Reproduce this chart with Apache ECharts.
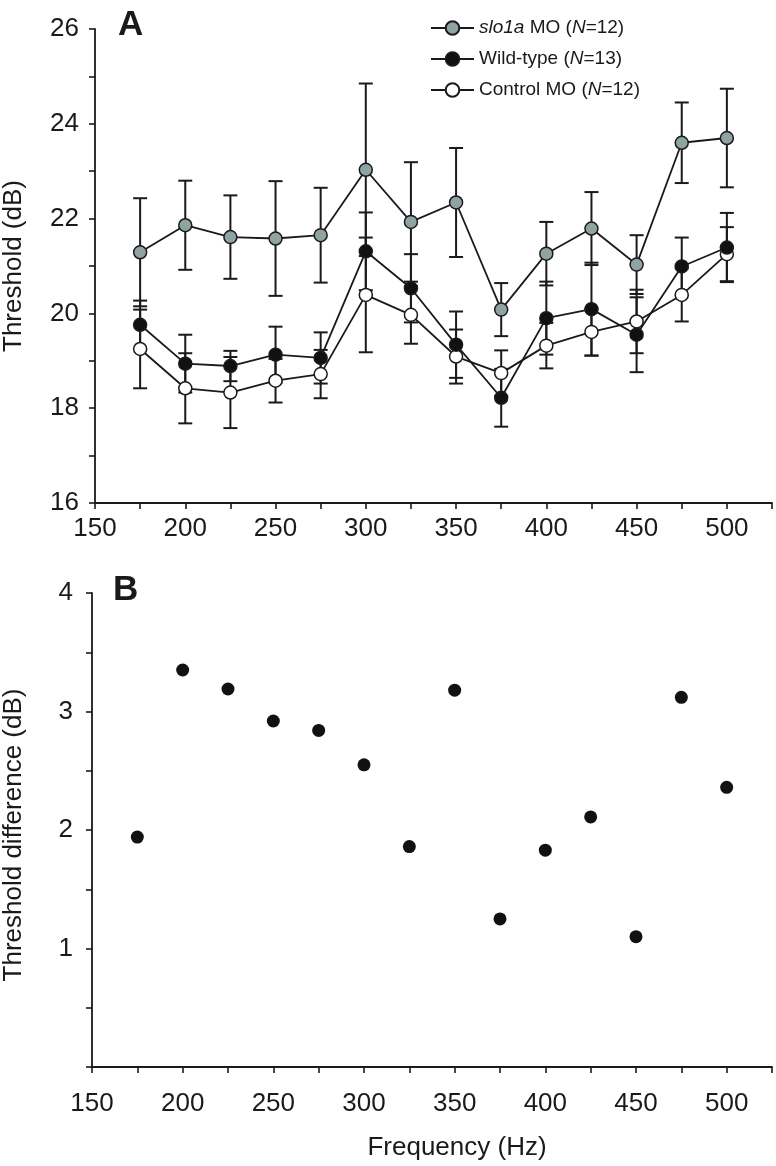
<!DOCTYPE html>
<html>
<head>
<meta charset="utf-8">
<script src="https://cdn.jsdelivr.net/npm/echarts@6/dist/echarts.min.js"></script>
<style>
html,body{margin:0;padding:0;background:#fff;}
#chart{width:776px;height:1166px;}
</style>
</head>
<body>
<div id="chart"></div>
<script>
// ---- data ----
var freqs = [175, 200, 225, 250, 275, 300, 325, 350, 375, 400, 425, 450, 475, 500];

var slo1aMean = [21.29, 21.86, 21.61, 21.58, 21.65, 23.03, 21.93, 22.34, 20.08, 21.26, 21.79, 21.03, 23.60, 23.70];
var slo1aErr  = [1.14, 0.94, 0.88, 1.21, 1.00, 1.82, 1.26, 1.15, 0.56, 0.67, 0.77, 0.62, 0.85, 1.04];

var wtMean = [19.76, 18.94, 18.89, 19.13, 19.06, 21.31, 20.53, 19.34, 18.22, 19.90, 20.09, 19.55, 20.99, 21.39];
var wtErr  = [0.51, 0.61, 0.32, 0.59, 0.54, 0.82, 0.72, 0.70, 0.61, 0.77, 0.98, 0.79, 0.61, 0.73];

var ctrlMean = [19.25, 18.42, 18.33, 18.58, 18.72, 20.39, 19.97, 19.09, 18.74, 19.32, 19.61, 19.83, 20.39, 21.25];
var ctrlErr  = [0.83, 0.74, 0.75, 0.46, 0.51, 1.21, 0.61, 0.57, 0.48, 0.48, 0.50, 0.67, 0.56, 0.57];

var thresholdDiff = [1.94, 3.35, 3.19, 2.92, 2.84, 2.55, 1.86, 3.18, 1.25, 1.83, 2.11, 1.10, 3.12, 2.36];

var seriesNames = ['slo1a MO (N=12)', 'Wild-type (N=13)', 'Control MO (N=12)'];
var legendRich = {
  'slo1a MO (N=12)': '{i|slo1a} MO ({i|N}=12)',
  'Wild-type (N=13)': 'Wild-type ({i|N}=13)',
  'Control MO (N=12)': 'Control MO ({i|N}=12)'
};

// ---- styles ----
var FONT = '"Liberation Sans", Arial, Helvetica, sans-serif';
var INK = '#1a1a1a';
var GRAY_FILL = '#8fa4a2';

function pairs(ys) { return freqs.map(function (f, i) { return [f, ys[i]]; }); }

function errSeries(means, errs) {
  return {
    type: 'custom', xAxisIndex: 0, yAxisIndex: 0, z: 1, silent: true,
    encode: { x: 0, y: 1 },
    data: freqs.map(function (f, i) { return [f, means[i], errs[i]]; }),
    renderItem: function (params, api) {
      var x = api.value(0), m = api.value(1), e = api.value(2);
      var top = api.coord([x, m + e]), bot = api.coord([x, m - e]);
      var hw = 7;
      var st = { stroke: INK, lineWidth: 2 };
      return { type: 'group', children: [
        { type: 'line', shape: { x1: top[0], y1: top[1], x2: bot[0], y2: bot[1] }, style: st },
        { type: 'line', shape: { x1: top[0] - hw, y1: top[1], x2: top[0] + hw, y2: top[1] }, style: st },
        { type: 'line', shape: { x1: bot[0] - hw, y1: bot[1], x2: bot[0] + hw, y2: bot[1] }, style: st }
      ]};
    }
  };
}

function lineSeries(name, means, fill, z) {
  return {
    name: name, type: 'line', xAxisIndex: 0, yAxisIndex: 0, z: z,
    data: pairs(means),
    symbol: 'circle', symbolSize: 13,
    itemStyle: { color: fill, borderColor: INK, borderWidth: 1.5 },
    lineStyle: { color: INK, width: 1.8 },
    emphasis: { disabled: true },
    animation: false
  };
}

var axisLineStyle = { show: true, lineStyle: { color: INK, width: 1.8 } };
var tickStyle = { show: true, inside: false, length: 6, lineStyle: { color: INK, width: 1.6 } };
var labelBase = { color: INK, fontSize: 26, fontFamily: FONT };

var chart = echarts.init(document.getElementById('chart'), null, { renderer: 'canvas' });
chart.setOption({
  backgroundColor: '#fff',
  animation: false,
  textStyle: { fontFamily: FONT, color: INK },
  grid: [
    { left: 95, right: 4, top: 29, height: 474 },
    { left: 92, right: 4, top: 593, height: 474 }
  ],
  xAxis: [
    { type: 'value', gridIndex: 0, min: 150, max: 525, interval: 25,
      axisLine: axisLineStyle, axisTick: tickStyle, splitLine: { show: false },
      axisLabel: Object.assign({}, labelBase, { margin: 13,
        formatter: function (v) { return v % 50 === 0 ? String(v) : ''; } }) },
    { type: 'value', gridIndex: 1, min: 150, max: 525, interval: 25, offset: 11,
      axisLine: axisLineStyle, axisTick: tickStyle, splitLine: { show: false },
      axisLabel: Object.assign({}, labelBase, { margin: 13,
        formatter: function (v) { return v % 50 === 0 ? String(v) : ''; } }) }
  ],
  yAxis: [
    { type: 'value', gridIndex: 0, min: 16, max: 26, interval: 1,
      axisLine: axisLineStyle, axisTick: tickStyle, splitLine: { show: false },
      axisLabel: Object.assign({}, labelBase, { margin: 16,
        formatter: function (v) { return v % 2 === 0 ? String(v) : ''; } }) },
    { type: 'value', gridIndex: 1, min: 0, max: 4, interval: 0.5,
      axisLine: axisLineStyle, axisTick: tickStyle, splitLine: { show: false },
      axisLabel: Object.assign({}, labelBase, { margin: 19,
        formatter: function (v) { return (v > 0 && v % 1 === 0) ? String(v) : ''; } }) }
  ],
  legend: {
    data: seriesNames,
    orient: 'vertical', left: 425, top: 13,
    itemWidth: 43, itemHeight: 17, itemGap: 11,
    selectedMode: false,
    formatter: function (n) { return legendRich[n]; },
    textStyle: { fontSize: 19, fontFamily: FONT, color: INK, lineHeight: 20,
      rich: { i: { fontStyle: 'italic', fontSize: 19, fontFamily: FONT, color: INK } } }
  },
  graphic: [
    { type: 'text', left: 118, top: 8, style: { text: 'A', font: 'bold 35px ' + FONT, fill: INK } },
    { type: 'text', left: 113, top: 573, style: { text: 'B', font: 'bold 35px ' + FONT, fill: INK } },
    { type: 'text', x: 14, y: 266, rotation: Math.PI / 2,
      style: { text: 'Threshold (dB)', font: '26px ' + FONT, fill: INK, align: 'center', verticalAlign: 'middle' } },
    { type: 'text', x: 14, y: 835, rotation: Math.PI / 2,
      style: { text: 'Threshold difference (dB)', font: '26px ' + FONT, fill: INK, align: 'center', verticalAlign: 'middle' } },
    { type: 'text', x: 457, y: 1148,
      style: { text: 'Frequency (Hz)', font: '26px ' + FONT, fill: INK, align: 'center', verticalAlign: 'middle' } }
  ],
  series: [
    errSeries(ctrlMean, ctrlErr),
    errSeries(wtMean, wtErr),
    errSeries(slo1aMean, slo1aErr),
    lineSeries(seriesNames[2], ctrlMean, '#ffffff', 3),
    lineSeries(seriesNames[1], wtMean, '#111111', 4),
    lineSeries(seriesNames[0], slo1aMean, GRAY_FILL, 5),
    { type: 'scatter', xAxisIndex: 1, yAxisIndex: 1, data: pairs(thresholdDiff),
      symbol: 'circle', symbolSize: 13, itemStyle: { color: '#111111', opacity: 1 }, z: 3,
      emphasis: { disabled: true } }
  ]
});
</script>
</body>
</html>
